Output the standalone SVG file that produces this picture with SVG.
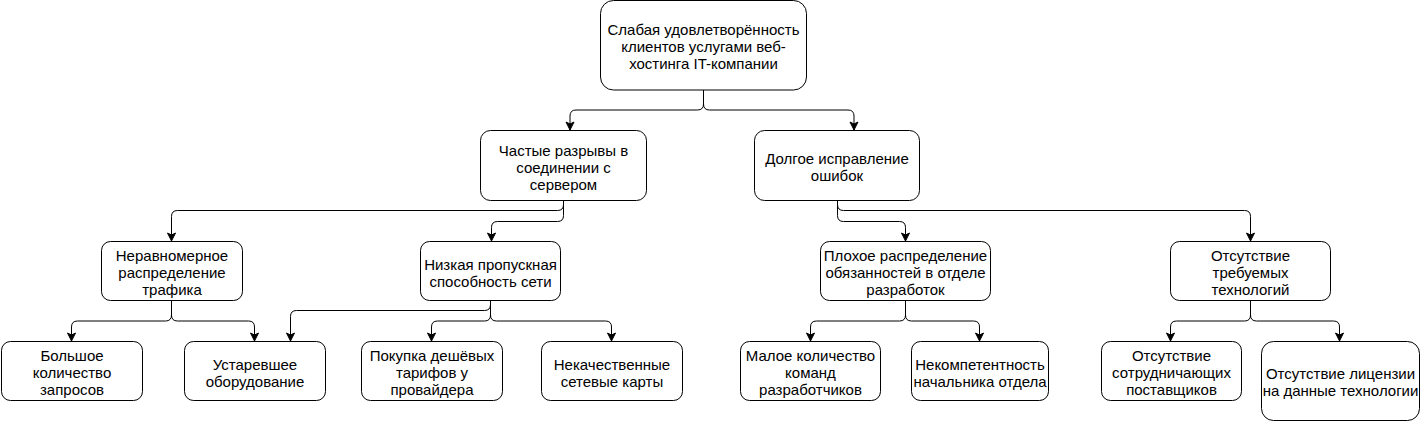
<svg xmlns="http://www.w3.org/2000/svg" width="1421" height="422" viewBox="0 0 1421 422">
<style>
.box{fill:#fff;stroke:#000;stroke-width:1}
.t{font-family:"Liberation Sans",Arial,Helvetica,sans-serif;font-size:15px;fill:#000;text-anchor:middle}
.e{fill:none;stroke:#000;stroke-width:1;marker-end:url(#arr)}
</style>
<defs>
<marker id="arr" markerUnits="userSpaceOnUse" markerWidth="10" markerHeight="10" viewBox="0 0 10 10" refX="9" refY="5" orient="auto">
<path d="M1,1 L9,5 L1,9 L3,5 Z" fill="#000" stroke="#000" stroke-width="1"/>
</marker>
</defs>
<rect width="1421" height="422" fill="#fff"/>
<g id="connectors">
<path class="e" d="M703.5,90 V104 Q703.5,110 697.5,110 H576 Q570,110 570,116 V130"/>
<path class="e" d="M703.5,90 V104 Q703.5,110 709.5,110 H848 Q854,110 854,116 V130"/>
<path class="e" d="M563.5,200.5 V204.5 Q563.5,210.5 557.5,210.5 H177.5 Q171.5,210.5 171.5,216.5 V241"/>
<path class="e" d="M563.5,200.5 V215.5 Q563.5,221.5 557.5,221.5 H497.5 Q491.5,221.5 491.5,227.5 V241"/>
<path class="e" d="M837.5,200.5 V215.5 Q837.5,221.5 843.5,221.5 H899.5 Q905.5,221.5 905.5,227.5 V241"/>
<path class="e" d="M837.5,200.5 V204.5 Q837.5,210.5 843.5,210.5 H1244.5 Q1250.5,210.5 1250.5,216.5 V241"/>
<path class="e" d="M171.5,300.5 V315 Q171.5,321 165.5,321 H77.5 Q71.5,321 71.5,327 V341"/>
<path class="e" d="M171.5,300.5 V315 Q171.5,321 177.5,321 H248.5 Q254.5,321 254.5,327 V341"/>
<path class="e" d="M490.5,300.5 V304.5 Q490.5,310.5 484.5,310.5 H296.5 Q290.5,310.5 290.5,316.5 V341"/>
<path class="e" d="M490.5,300.5 V315 Q490.5,321 484.5,321 H437.5 Q431.5,321 431.5,327 V341"/>
<path class="e" d="M490.5,300.5 V315 Q490.5,321 496.5,321 H605.5 Q611.5,321 611.5,327 V341"/>
<path class="e" d="M905.5,300.5 V315 Q905.5,321 899.5,321 H816.5 Q810.5,321 810.5,327 V341"/>
<path class="e" d="M905.5,300.5 V315 Q905.5,321 911.5,321 H973.5 Q979.5,321 979.5,327 V341"/>
<path class="e" d="M1250.5,300.5 V315 Q1250.5,321 1244.5,321 H1176.5 Q1170.5,321 1170.5,327 V341"/>
<path class="e" d="M1250.5,300.5 V315 Q1250.5,321 1256.5,321 H1333.5 Q1339.5,321 1339.5,327 V341"/>
</g>
<g id="root">
<rect class="box" x="600.5" y="0.5" width="206" height="89.5" rx="13"/>
<text class="t" x="703.5" y="35">Слабая удовлетворённость</text>
<text class="t" x="703.5" y="52">клиентов услугами веб-</text>
<text class="t" x="703.5" y="69">хостинга IT-компании</text>
</g>
<g id="n_chastye">
<rect class="box" x="480.5" y="130.5" width="166" height="70" rx="10"/>
<text class="t" x="563.5" y="155.5">Частые разрывы в</text>
<text class="t" x="563.5" y="172.5">соединении с</text>
<text class="t" x="563.5" y="189.5">сервером</text>
</g>
<g id="n_dolgoe">
<rect class="box" x="754.5" y="130.5" width="165" height="70" rx="10"/>
<text class="t" x="837" y="164">Долгое исправление</text>
<text class="t" x="837" y="181">ошибок</text>
</g>
<g id="n_neravn">
<rect class="box" x="101.5" y="241.5" width="141" height="59" rx="9"/>
<text class="t" x="172" y="261">Неравномерное</text>
<text class="t" x="172" y="278">распределение</text>
<text class="t" x="172" y="295">трафика</text>
</g>
<g id="n_nizkaya">
<rect class="box" x="420.5" y="241.5" width="140" height="59" rx="9"/>
<text class="t" x="490.5" y="270">Низкая пропускная</text>
<text class="t" x="490.5" y="287">способность сети</text>
</g>
<g id="n_plohoe">
<rect class="box" x="820.5" y="241.5" width="170" height="59" rx="9"/>
<text class="t" x="905.5" y="261">Плохое распределение</text>
<text class="t" x="905.5" y="278">обязанностей в отделе</text>
<text class="t" x="905.5" y="295">разработок</text>
</g>
<g id="n_otsut_tech">
<rect class="box" x="1170.5" y="241.5" width="160" height="59" rx="9"/>
<text class="t" x="1250.5" y="261">Отсутствие</text>
<text class="t" x="1250.5" y="278">требуемых</text>
<text class="t" x="1250.5" y="295">технологий</text>
</g>
<g id="n_bolshoe">
<rect class="box" x="1.5" y="341.5" width="141" height="59" rx="9"/>
<text class="t" x="72" y="361">Большое</text>
<text class="t" x="72" y="378">количество</text>
<text class="t" x="72" y="395">запросов</text>
</g>
<g id="n_ustar">
<rect class="box" x="184.5" y="341.5" width="141" height="59" rx="9"/>
<text class="t" x="255" y="370">Устаревшее</text>
<text class="t" x="255" y="387">оборудование</text>
</g>
<g id="n_pokupka">
<rect class="box" x="361.5" y="341.5" width="141" height="59" rx="9"/>
<text class="t" x="432" y="361">Покупка дешёвых</text>
<text class="t" x="432" y="378">тарифов у</text>
<text class="t" x="432" y="395">провайдера</text>
</g>
<g id="n_nekach">
<rect class="box" x="541.5" y="341.5" width="141" height="59" rx="9"/>
<text class="t" x="612" y="370">Некачественные</text>
<text class="t" x="612" y="387">сетевые карты</text>
</g>
<g id="n_maloe">
<rect class="box" x="740.5" y="341.5" width="140" height="59" rx="9"/>
<text class="t" x="810.5" y="361">Малое количество</text>
<text class="t" x="810.5" y="378">команд</text>
<text class="t" x="810.5" y="395">разработчиков</text>
</g>
<g id="n_nekomp">
<rect class="box" x="911.5" y="341.5" width="137" height="59" rx="9"/>
<text class="t" x="980" y="370">Некомпетентность</text>
<text class="t" x="980" y="387">начальника отдела</text>
</g>
<g id="n_sotr">
<rect class="box" x="1101.5" y="341.5" width="140" height="59" rx="9"/>
<text class="t" x="1171.5" y="361">Отсутствие</text>
<text class="t" x="1171.5" y="378">сотрудничающих</text>
<text class="t" x="1171.5" y="395">поставщиков</text>
</g>
<g id="n_licenz">
<rect class="box" x="1261.5" y="341.5" width="158" height="79" rx="12"/>
<text class="t" x="1340.5" y="379">Отсутствие лицензии</text>
<text class="t" x="1340.5" y="396">на данные технологии</text>
</g>
</svg>
